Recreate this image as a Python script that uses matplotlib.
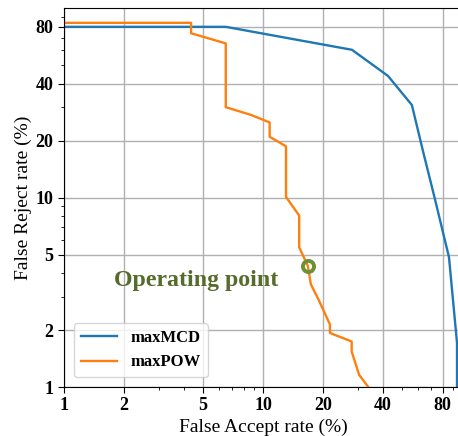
import matplotlib
matplotlib.use("Agg")
import matplotlib.pyplot as plt
from matplotlib.ticker import FixedLocator, FixedFormatter, LogLocator, NullFormatter

plt.rcParams['font.family'] = ['Liberation Serif', 'DejaVu Serif']

# Data (percent)
mcd_far = [1.0, 6.5, 28.0, 42.5, 56.0, 63.7, 73.0, 86.0, 94.4, 94.4]
mcd_frr = [80.0, 80.0, 60.5, 44.0, 30.9, 17.6, 9.9, 4.86, 1.71, 1.0]

pow_far = [1.0, 4.35, 4.35, 6.5, 6.5, 8.7, 10.8, 10.8, 13.05, 13.05, 15.2, 15.2,
           16.8, 17.4, 19.0, 21.7, 21.7, 27.9, 27.9, 30.4, 33.8]
pow_frr = [84.0, 84.0, 74.0, 65.4, 30.1, 27.4, 25.0, 21.0, 18.7, 10.1, 8.05, 5.47,
           4.36, 3.49, 2.9, 2.14, 1.93, 1.74, 1.54, 1.16, 1.0]

op_far = [16.8]
op_frr = [4.36]

ticks = [1, 2, 5, 10, 20, 40, 80]
tick_labels = ['1', '2', '5', '10', '20', '40', '80']

W, H = 458, 436
fig = plt.figure(figsize=(W / 100, H / 100), dpi=100)
left, right, top, bottom = 64, 462, 8.5, 387
ax = fig.add_axes([left / W, (H - bottom) / H, (right - left) / W, (bottom - top) / H])

ax.plot(mcd_far, mcd_frr, color='#1f77b4', lw=1.7, label='maxMCD')
ax.plot(pow_far, pow_frr, color='#ff7f0e', lw=1.7, label='maxPOW')
ax.plot(op_far, op_frr, 'o', ms=8, mfc='none', mec='#6f8f34', mew=2.8)
ax.text(4.6, 3.66, 'Operating point', color='#566b2c', fontsize=17.2,
        fontweight='bold', ha='center', va='center')

ax.set_xscale('log')
ax.set_yscale('log')
ax.set_xlim(1, 100)
ax.set_ylim(1, 100)
for axis in (ax.xaxis, ax.yaxis):
    axis.set_major_locator(FixedLocator(ticks))
    axis.set_major_formatter(FixedFormatter(tick_labels))
    axis.set_minor_locator(LogLocator(base=10, subs=range(2, 10)))
    axis.set_minor_formatter(NullFormatter())
for lab in ax.get_xticklabels() + ax.get_yticklabels():
    lab.set_fontweight('bold')
    lab.set_fontsize(13)
ax.tick_params(which='major', length=4)
ax.tick_params(which='minor', length=2.5)
ax.grid(True, which='major', color='#b0b0b0', lw=1)
ax.set_axisbelow(True)

ax.set_xlabel('False Accept rate (%)', fontsize=14, labelpad=3)
ax.set_ylabel('False Reject rate (%)', fontsize=14, labelpad=3)

leg = ax.legend(loc='lower left', prop={'weight': 'bold', 'size': 12},
                borderaxespad=0.6, handlelength=2.2)

fig.savefig('out.png', dpi=100)
